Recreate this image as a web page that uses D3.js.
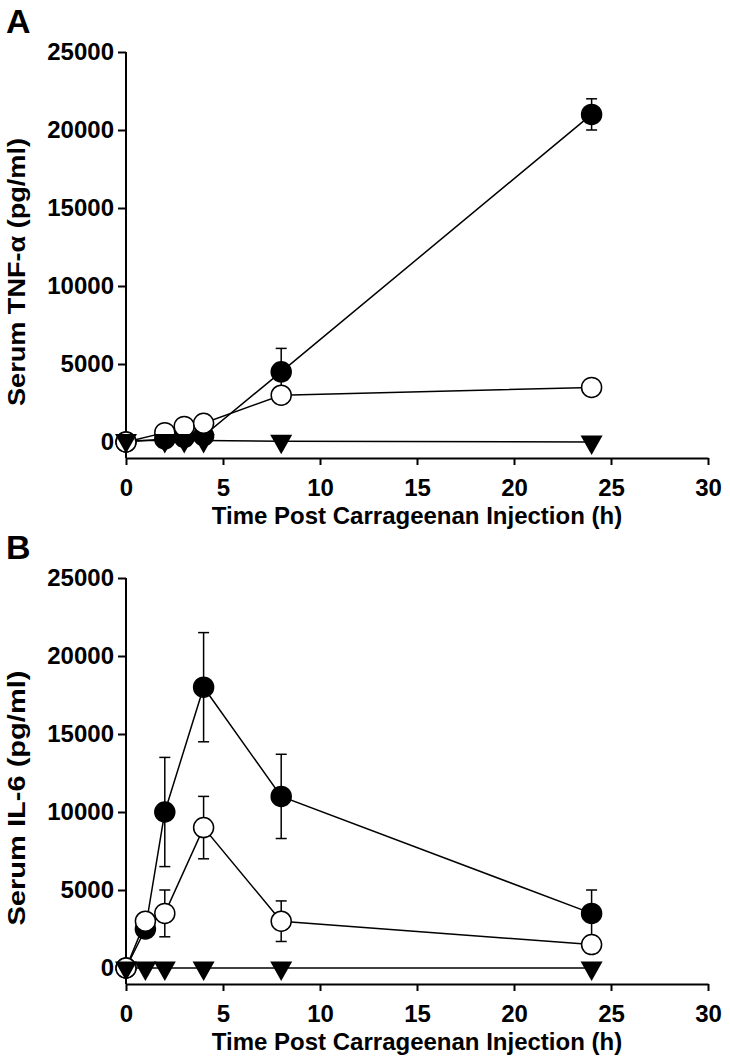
<!DOCTYPE html>
<html><head><meta charset="utf-8">
<script src="https://cdn.jsdelivr.net/npm/d3@7"></script>
<style>body{margin:0;background:#fff}svg{display:block}text{font-family:"Liberation Sans",Arial,sans-serif;font-weight:bold}</style>
</head><body>
<script>
// Panel A: TNF-alpha
const timesA = [0, 2, 3, 4, 8, 24];
const tnfFilled = [0, 200, 300, 400, 4500, 21000];
const tnfFilledErr = [0, 0, 0, 0, 1500, 1000];
const tnfOpen = [0, 600, 1000, 1200, 3000, 3500];
const tnfOpenErr = [0, 0, 0, 0, 0, 0];
const tnfTri = [100, 100, 100, 100, 50, 0];
// Panel B: IL-6
const timesB = [0, 1, 2, 4, 8, 24];
const il6Filled = [0, 2500, 10000, 18000, 11000, 3500];
const il6FilledErr = [0, 0, 3500, 3500, 2700, 1500];
const il6Open = [0, 3000, 3500, 9000, 3000, 1500];
const il6OpenErr = [0, 0, 1500, 2000, 1300, 0];
const il6Tri = [0, 0, 0, 0, 0, 0];
const xTicks = [0, 5, 10, 15, 20, 25, 30];
const yTicks = [0, 5000, 10000, 15000, 20000, 25000];

const svg = d3.select("body").append("svg").attr("width", 730).attr("height", 1063);
const FS = 24;

function panel(cfg) {
  const x = d3.scaleLinear().domain([0, 30]).range([126, 708]);
  const y = d3.scaleLinear().domain([0, 25000]).range([cfg.y0, cfg.y0 - 390]);
  const axisY = cfg.y0 + 16;
  const g = svg.append("g");
  const xa = g.append("g").attr("transform", `translate(0,${axisY})`)
    .call(d3.axisBottom(x).tickValues(xTicks).tickFormat(d3.format("d")).tickSize(7).tickPadding(14).tickSizeOuter(0));
  xa.select(".domain").attr("stroke-width", 2);
  xa.selectAll(".tick line").attr("stroke-width", 2);
  xa.selectAll("text").attr("font-size", FS).attr("fill", "#000");
  const ya = g.append("g").attr("transform", `translate(126,0)`)
    .call(d3.axisLeft(y).tickValues(yTicks).tickFormat(d3.format("d")).tickSize(8).tickPadding(4).tickSizeOuter(0));
  ya.select(".domain").attr("stroke-width", 2).attr("d", `M0,${y(25000)}V${axisY}`);
  ya.selectAll(".tick line").attr("stroke-width", 2);
  ya.selectAll("text").attr("font-size", FS).attr("fill", "#000");
  g.append("text").attr("x", 417).attr("y", axisY + 66).attr("text-anchor", "middle")
    .attr("font-size", 24).text("Time Post Carrageenan Injection (h)");
  g.append("text").attr("transform", `translate(25,${cfg.y0 - 170}) rotate(-90)`).attr("text-anchor", "middle")
    .attr("font-size", 24).attr("textLength", cfg.ylen).attr("lengthAdjust", "spacingAndGlyphs").text(cfg.ylabel);
  g.append("text").attr("x", 6).attr("y", cfg.y0 - 409).attr("font-size", 34).text(cfg.letter);

  const line = d3.line().x(d => x(d[0])).y(d => y(d[1]));
  const series = [
    {v: cfg.filled, e: cfg.filledErr, type: "filled"},
    {v: cfg.open, e: cfg.openErr, type: "open"},
    {v: cfg.tri, e: null, type: "tri"}
  ];
  series.forEach(s => {
    g.append("path").datum(cfg.t.map((t, i) => [t, s.v[i]]))
      .attr("d", line).attr("fill", "none").attr("stroke", "#000").attr("stroke-width", 1.5);
  });
  series.forEach(s => {
    if (!s.e) return;
    cfg.t.forEach((t, i) => {
      if (!s.e[i]) return;
      const cx = x(t), top = y(s.v[i] + s.e[i]), bot = y(s.v[i] - s.e[i]);
      g.append("line").attr("x1", cx).attr("x2", cx).attr("y1", top).attr("y2", bot).attr("stroke", "#000").attr("stroke-width", 1.5);
      [top, bot].forEach(yy => g.append("line").attr("x1", cx - 5.5).attr("x2", cx + 5.5).attr("y1", yy).attr("y2", yy).attr("stroke", "#000").attr("stroke-width", 1.5));
    });
  });
  series.forEach(s => {
    cfg.t.forEach((t, i) => {
      const cx = x(t), cy = y(s.v[i]);
      if (s.type === "tri") {
        g.append("path").attr("d", `M${cx - 11},${cy - 6.5}L${cx + 11},${cy - 6.5}L${cx},${cy + 13}Z`).attr("fill", "#000");
      } else {
        g.append("circle").attr("cx", cx).attr("cy", cy).attr("r", 10)
          .attr("fill", s.type === "filled" ? "#000" : "#fff").attr("stroke", "#000").attr("stroke-width", 1.5);
      }
    });
  });
}

panel({y0: 442, ylen: 268, letter: "A", ylabel: "Serum TNF-α (pg/ml)", t: timesA,
  filled: tnfFilled, filledErr: tnfFilledErr, open: tnfOpen, openErr: tnfOpenErr, tri: tnfTri});
panel({y0: 968, ylen: 255, letter: "B", ylabel: "Serum IL-6 (pg/ml)", t: timesB,
  filled: il6Filled, filledErr: il6FilledErr, open: il6Open, openErr: il6OpenErr, tri: il6Tri});
</script>
</body></html>
